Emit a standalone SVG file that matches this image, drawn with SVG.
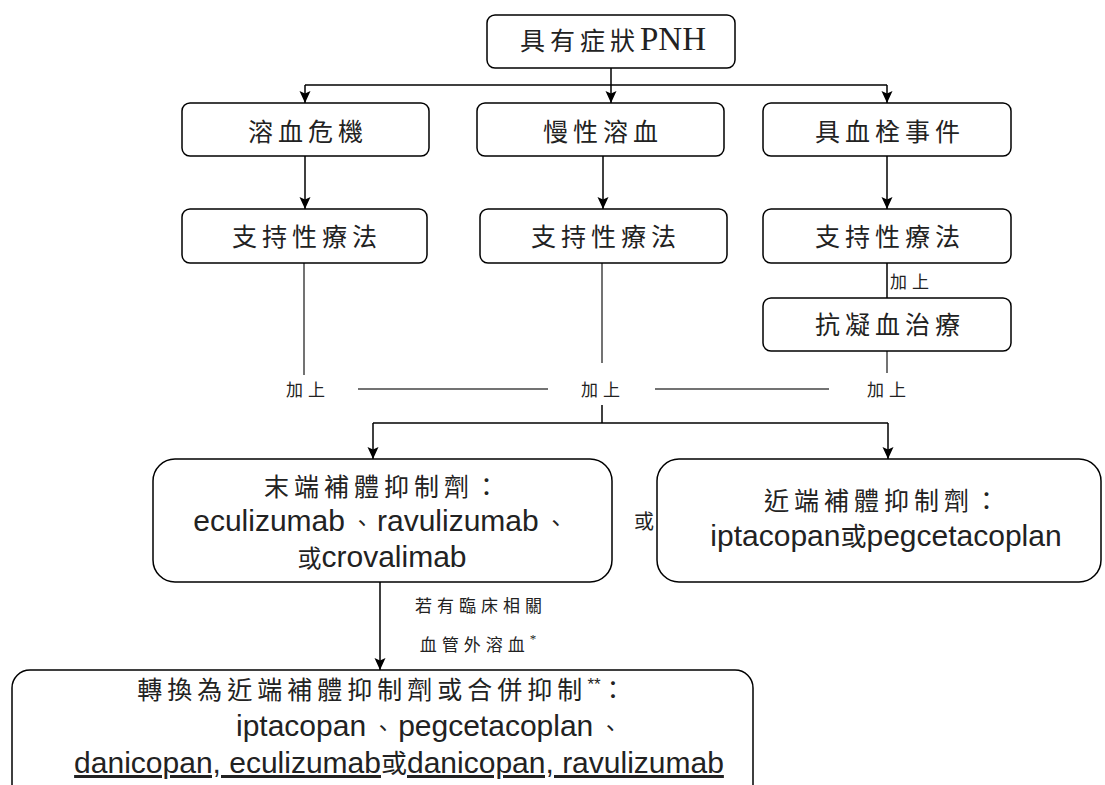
<svg xmlns="http://www.w3.org/2000/svg" width="1105" height="785" viewBox="0 0 1105 785">
<defs>
<marker id="arr" viewBox="0 0 12 12" refX="12" refY="6" markerWidth="12" markerHeight="12" markerUnits="userSpaceOnUse" orient="auto"><path d="M0,0.5 L12,6 L0,11.5 L2.5,6 z" fill="#000"/></marker>
<style>
.box{fill:#fff;stroke:#000;stroke-width:1.5}
.zh{font-family:"Noto Sans CJK TC","Noto Sans CJK SC",sans-serif;font-size:25px;letter-spacing:5px;fill:#222;text-anchor:middle}
.en{font-family:"Liberation Sans",Arial,sans-serif;font-size:30px;letter-spacing:0;fill:#222}
.cj{font-family:"Noto Sans CJK TC","Noto Sans CJK SC",sans-serif}
.dn{font-family:"Noto Sans CJK TC","Noto Sans CJK SC",sans-serif;font-size:22px;letter-spacing:4px}
.lbl{font-family:"Noto Sans CJK TC","Noto Sans CJK SC",sans-serif;font-size:17px;letter-spacing:5px;fill:#222;text-anchor:middle}
.ln{stroke:#000;stroke-width:1.5;fill:none}
.lg{stroke:#444;stroke-width:1.5;fill:none}
.mid{text-anchor:middle}
</style>
</defs>
<rect width="1105" height="785" fill="#fff"/>

<g id="connectors">
<path class="ln" d="M611,68 V103" marker-end="url(#arr)"/>
<path class="ln" d="M305,85 H887"/>
<path class="ln" d="M305,85 V103" marker-end="url(#arr)"/>
<path class="ln" d="M887,85 V103" marker-end="url(#arr)"/>
<path class="ln" d="M305,156 V209" marker-end="url(#arr)"/>
<path class="ln" d="M603,156 V209" marker-end="url(#arr)"/>
<path class="ln" d="M887,156 V209" marker-end="url(#arr)"/>
<path class="ln" d="M887,263 V298"/>
<text class="lbl" x="912" y="288">加上</text>
<path class="lg" d="M304,263 V375"/>
<path class="lg" d="M602,263 V363"/>
<path class="lg" d="M887,351 V373"/>
<text class="lbl" x="308" y="396">加上</text>
<text class="lbl" x="603" y="396">加上</text>
<text class="lbl" x="889" y="396">加上</text>
<path class="lg" d="M358,389 H548"/>
<path class="lg" d="M655,389 H829"/>
<path class="ln" d="M602,405 V423"/>
<path class="ln" d="M373,423 H888"/>
<path class="ln" d="M373,423 V459" marker-end="url(#arr)"/>
<path class="ln" d="M888,423 V459" marker-end="url(#arr)"/>
<text class="cj" x="644" y="529" font-size="20" text-anchor="middle" fill="#222">或</text>
<path class="ln" d="M380,582 V670" marker-end="url(#arr)"/>
<text class="lbl" x="481" y="612">若有臨床相關</text>
<text class="lbl" x="478" y="651">血管外溶血<tspan font-family="Liberation Serif" font-size="13" dy="-8" letter-spacing="0">*</tspan></text>
</g>

<g id="n_pnh">
<rect class="box" x="487" y="15" width="248" height="53" rx="8"/>
<text class="zh" x="613" y="50">具有症狀<tspan font-family="Liberation Serif" font-size="33" letter-spacing="0">PNH</tspan></text>
</g>
<g id="n_crisis">
<rect class="box" x="182" y="103" width="247" height="53" rx="8"/>
<text class="zh" x="308" y="141">溶血危機</text>
</g>
<g id="n_chronic">
<rect class="box" x="477" y="103" width="247" height="53" rx="8"/>
<text class="zh" x="603" y="141">慢性溶血</text>
</g>
<g id="n_thrombo">
<rect class="box" x="763" y="103" width="248" height="53" rx="8"/>
<text class="zh" x="890" y="141">具血栓事件</text>
</g>
<g id="n_sup1">
<rect class="box" x="182" y="209" width="245" height="54" rx="8"/>
<text class="zh" x="307" y="246">支持性療法</text>
</g>
<g id="n_sup2">
<rect class="box" x="480" y="209" width="247" height="54" rx="8"/>
<text class="zh" x="606" y="246">支持性療法</text>
</g>
<g id="n_sup3">
<rect class="box" x="763" y="209" width="248" height="54" rx="8"/>
<text class="zh" x="890" y="246">支持性療法</text>
</g>
<g id="n_anticoag">
<rect class="box" x="763" y="298" width="248" height="53" rx="8"/>
<text class="zh" x="890" y="334">抗凝血治療</text>
</g>
<g id="n_terminal">
<rect class="box" x="153" y="459" width="459" height="123" rx="22"/>
<text class="zh" x="384" y="496">末端補體抑制劑：</text>
<text class="en mid" x="382" y="531">eculizumab<tspan class="dn" dx="6">、</tspan>ravulizumab<tspan class="dn" dx="6">、</tspan></text>
<text class="en mid" x="382" y="567"><tspan class="cj" font-size="24">或</tspan>crovalimab</text>
</g>
<g id="n_proximal">
<rect class="box" x="657" y="459" width="444" height="123" rx="22"/>
<text class="zh" x="884" y="510">近端補體抑制劑：</text>
<text class="en mid" x="886" y="546" font-size="31">iptacopan<tspan class="cj" font-size="26">或</tspan>pegcetacoplan</text>
</g>
<g id="n_switch">
<rect class="box" x="12" y="670" width="741" height="140" rx="18"/>
<text class="zh" x="384" y="699">轉換為近端補體抑制劑或合併抑制<tspan font-family="Liberation Sans" font-size="17" dy="-9" letter-spacing="0">**</tspan><tspan dy="9">：</tspan></text>
<text class="en" x="236" y="736">iptacopan<tspan class="dn" dx="6">、</tspan>pegcetacoplan<tspan class="dn" dx="6">、</tspan></text>
<text class="en mid" x="399" y="773" font-size="31"><tspan text-decoration="underline">danicopan, eculizumab</tspan><tspan class="cj" font-size="26">或</tspan><tspan text-decoration="underline">danicopan, ravulizumab</tspan></text>
</g>
</svg>
